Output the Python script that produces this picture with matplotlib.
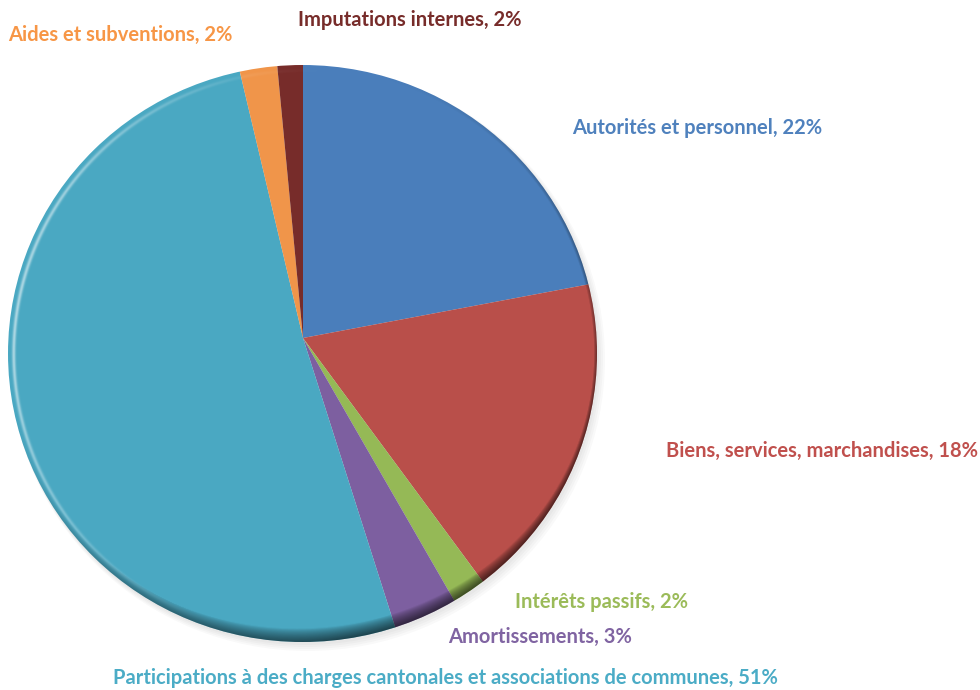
import matplotlib
matplotlib.use("Agg")
import matplotlib.pyplot as plt
import matplotlib.patches as patches
import numpy as np

# Share of expenses (pie goes clockwise from 12 o'clock)
categories = ["Autorités et personnel", "Biens, services, marchandises", "Intérêts passifs",
              "Amortissements", "Participations à des charges cantonales et associations de communes",
              "Aides et subventions", "Imputations internes"]
values = [22.0, 17.8, 1.8, 3.4, 51.1, 2.2, 1.5]
slice_colors = ["#4A7EBB", "#B94F4A", "#95B956", "#7D5FA0", "#4AA8C2", "#F0954A", "#772C2A"]
label_colors = ["#4F81BD", "#C0504D", "#9BBB59", "#8064A2", "#4BACC6", "#F79646", "#772C2A"]

# label anchor points in pixel space (x, y from top)
label_pos = [(697, 128), (822, 451), (601, 602), (540, 637), (445, 678), (120, 35), (410, 20)]

W, H = 980, 690
fig = plt.figure(figsize=(W / 100, H / 100), dpi=100)
ax = fig.add_axes([0, 0, 1, 1])

# tilted look: slices meet above the middle of the outline
vx, vy = 303, H - 338
ex, ey, ew, eh = 302.5, H - 353.5, 589, 577

# soft shadow behind the pie
for k in range(4):
    ax.add_patch(patches.Ellipse((ex + 2 + k, ey - 3 - k), ew + 2 * k, eh + 2 * k,
                                 facecolor='black', edgecolor='none', alpha=0.025, zorder=0))

wedges, _ = ax.pie(values, colors=slice_colors, startangle=90, counterclock=False,
                   center=(vx, vy), radius=340, frame=True,
                   wedgeprops=dict(edgecolor='none', linewidth=0))
for w in wedges:
    w.set_zorder(1)
    w.set_clip_on(True)
    w.set_clip_path(patches.Ellipse((ex, ey), ew, eh, transform=ax.transData))

# rim shading: light line on the left, dark rim towards the bottom right
n = 600
xs = np.linspace(-1, 1, n)
X, Y = np.meshgrid(xs, xs[::-1])
R = np.sqrt(X**2 + Y**2)
ang = np.arctan2(Y, X)
down = np.clip(np.cos(ang - np.deg2rad(-80)), 0, 1)   # towards bottom
right = np.clip(np.cos(ang - np.deg2rad(-10)), 0, 1)  # towards right
left = np.clip(np.cos(ang - np.deg2rad(170)), 0, 1)
dark_width = 0.012 + 0.035 * down**3
dark = np.clip((R - (1 - dark_width)) / dark_width, 0, 1) ** 0.7
dark_alpha = dark * np.clip(0.55 * down**1.5 + 0.45 * right**2, 0, 0.6)
hl = np.exp(-((R - 0.982) / 0.006) ** 2) * left**2 * 0.55
overlay = np.zeros((n, n, 4))
a = dark_alpha + hl
overlay[..., :3] = (hl / np.maximum(a, 1e-6))[..., None]
overlay[..., 3] = np.clip(a, 0, 1)
img = ax.imshow(overlay, extent=(ex - ew / 2, ex + ew / 2, ey - eh / 2, ey + eh / 2),
                zorder=2, interpolation='bilinear')
img.set_clip_path(patches.Ellipse((ex, ey), ew, eh, transform=ax.transData))

ax.set_xlim(0, W)
ax.set_ylim(0, H)
ax.set_aspect('auto')
ax.axis('off')

total = sum(values)
for name, v, col, (px, py) in zip(categories, values, label_colors, label_pos):
    ax.text(px, H - py, f"{name}, {round(v / total * 100)}%", ha='center', va='center',
            color=col, fontsize=14.5, fontweight='bold', family='Lato', zorder=3)

fig.savefig("out.png", dpi=100)
